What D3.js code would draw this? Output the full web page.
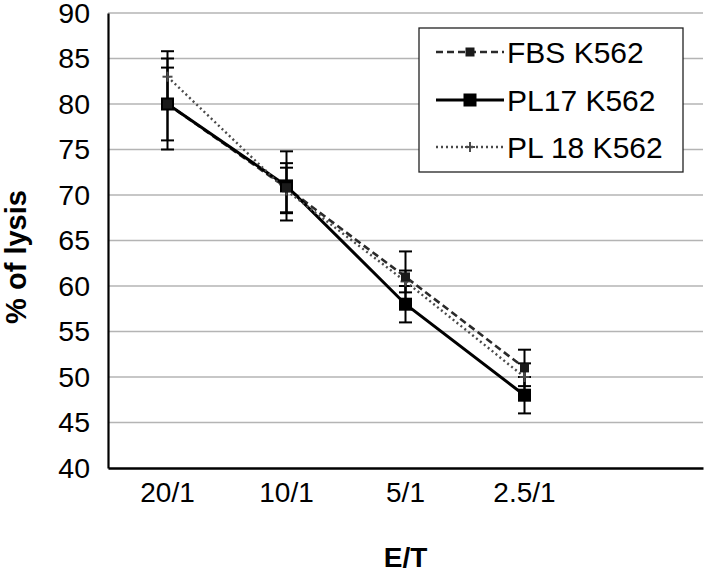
<!DOCTYPE html>
<html>
<head>
<meta charset="utf-8">
<script src="https://cdn.jsdelivr.net/npm/d3@7"></script>
<style>
  html, body { margin: 0; padding: 0; background: #fff; }
  svg { display: block; font-family: "Liberation Sans", Arial, sans-serif; }
</style>
</head>
<body>
<svg id="chart" width="708" height="580"></svg>
<script>
// ---- data ----
const categories = ["20/1", "10/1", "5/1", "2.5/1"];
const yTicks = [40, 45, 50, 55, 60, 65, 70, 75, 80, 85, 90];
const seriesNames = ["FBS K562", "PL17 K562", "PL 18 K562"];
const fbsValues  = [80.0, 70.8, 61.0, 51.0];
const fbsErrors  = [4.0, 2.7, 2.8, 2.0];
const pl17Values = [80.0, 71.0, 58.0, 48.0];
const pl17Errors = [5.0, 3.8, 2.0, 2.0];
const pl18Values = [83.0, 70.5, 60.5, 50.0];
const pl18Errors = [2.8, 2.5, 1.2, 1.5];
const xTitle = "E/T";
const yTitle = "% of lysis";

(function () {
// ---- layout ----
const svg = d3.select("#chart");
const mLeft = 108, mRight = 703, mTop = 13, mBottom = 468;

const x = d3.scaleBand().domain(categories.concat([" "])).range([mLeft, mRight]).paddingInner(0).paddingOuter(0);
const xc = c => x(c) + x.bandwidth() / 2;
const y = d3.scaleLinear().domain([40, 90]).range([mBottom, mTop]);

const series = [
  { name: seriesNames[0], values: fbsValues, errors: fbsErrors, color: "#2a2a2a", width: 2.6, dash: "7,4", marker: "smallsquare" },
  { name: seriesNames[1], values: pl17Values, errors: pl17Errors, color: "#000", width: 3, dash: null, marker: "square" },
  { name: seriesNames[2], values: pl18Values, errors: pl18Errors, color: "#4a4a4a", width: 2.4, dash: "2,3", marker: "plus" }
];

// gridlines
svg.append("g")
  .selectAll("line")
  .data(yTicks.filter(t => t > 40))
  .join("line")
  .attr("x1", mLeft).attr("x2", mRight)
  .attr("y1", d => y(d)).attr("y2", d => y(d))
  .attr("stroke", "#b4b4b4").attr("stroke-width", 1.6);

// y axis
const yAxis = d3.axisLeft(y).tickValues(yTicks).tickSize(0).tickPadding(18);
const gy = svg.append("g").attr("transform", `translate(${mLeft},0)`).call(yAxis);
gy.select(".domain").attr("stroke", "#000").attr("stroke-width", 2.2);
gy.selectAll("text").attr("font-size", 28.5).attr("fill", "#000")
  .attr("font-family", "'Liberation Sans', Arial, sans-serif");

// x axis
const xAxis = d3.axisBottom(x).tickSize(0).tickPadding(14);
const gx = svg.append("g").attr("transform", `translate(0,${mBottom})`).call(xAxis);
gx.select(".domain").attr("stroke", "#000").attr("stroke-width", 2.4);
gx.selectAll("text").attr("font-size", 28).attr("fill", "#000")
  .attr("font-family", "'Liberation Sans', Arial, sans-serif");

// titles
svg.append("text").attr("x", (mLeft + mRight) / 2).attr("y", 567)
  .attr("text-anchor", "middle").attr("font-size", 28).attr("font-weight", "bold").text(xTitle);
svg.append("text")
  .attr("transform", "translate(16,257) rotate(-90)")
  .attr("text-anchor", "middle").attr("dominant-baseline", "central")
  .attr("font-size", 29).attr("font-weight", "bold").text(yTitle);

// error bars
const capW = 13;
series.forEach(s => {
  const g = svg.append("g");
  categories.forEach((c, i) => {
    const cx = xc(c), hi = y(s.values[i] + s.errors[i]), lo = y(s.values[i] - s.errors[i]);
    g.append("line").attr("x1", cx).attr("x2", cx).attr("y1", hi).attr("y2", lo)
      .attr("stroke", "#000").attr("stroke-width", 2);
    [hi, lo].forEach(v => g.append("line").attr("x1", cx - capW / 2).attr("x2", cx + capW / 2)
      .attr("y1", v).attr("y2", v).attr("stroke", "#000").attr("stroke-width", 2));
  });
});

// lines
const line = d3.line().x((d, i) => xc(categories[i])).y(d => y(d));
series.forEach(s => {
  svg.append("path").datum(s.values).attr("d", line)
    .attr("fill", "none").attr("stroke", s.color).attr("stroke-width", s.width)
    .attr("stroke-dasharray", s.dash);
});

function drawMarker(g, type, cx, cy, color) {
  if (type === "square") {
    g.append("rect").attr("x", cx - 6.5).attr("y", cy - 6.5).attr("width", 13).attr("height", 13).attr("fill", "#000");
  } else if (type === "smallsquare") {
    g.append("rect").attr("x", cx - 4.5).attr("y", cy - 4.5).attr("width", 9).attr("height", 9).attr("fill", "#1a1a1a");
  } else {
    g.append("line").attr("x1", cx - 5).attr("x2", cx + 5).attr("y1", cy).attr("y2", cy).attr("stroke", color).attr("stroke-width", 2);
    g.append("line").attr("x1", cx).attr("x2", cx).attr("y1", cy - 5).attr("y2", cy + 5).attr("stroke", color).attr("stroke-width", 2);
  }
}

// markers
series.slice().reverse().forEach(s => {
  const g = svg.append("g");
  s.values.forEach((v, i) => drawMarker(g, s.marker, xc(categories[i]), y(v), s.color));
});

// legend
const lg = svg.append("g");
lg.append("rect").attr("x", 419).attr("y", 28).attr("width", 264).attr("height", 144)
  .attr("fill", "#fff").attr("stroke", "#222").attr("stroke-width", 1.3);
const rowY = [52, 100, 147];
series.forEach((s, i) => {
  const ry = rowY[i];
  lg.append("line").attr("x1", 436).attr("x2", 504).attr("y1", ry).attr("y2", ry)
    .attr("stroke", s.color).attr("stroke-width", s.width).attr("stroke-dasharray", s.dash);
  drawMarker(lg, s.marker, 470, ry, s.color);
  lg.append("text").attr("x", 507).attr("y", ry).attr("dominant-baseline", "central")
    .attr("font-size", 30).attr("fill", "#000").text(s.name);
});
})();
</script>
</body>
</html>
